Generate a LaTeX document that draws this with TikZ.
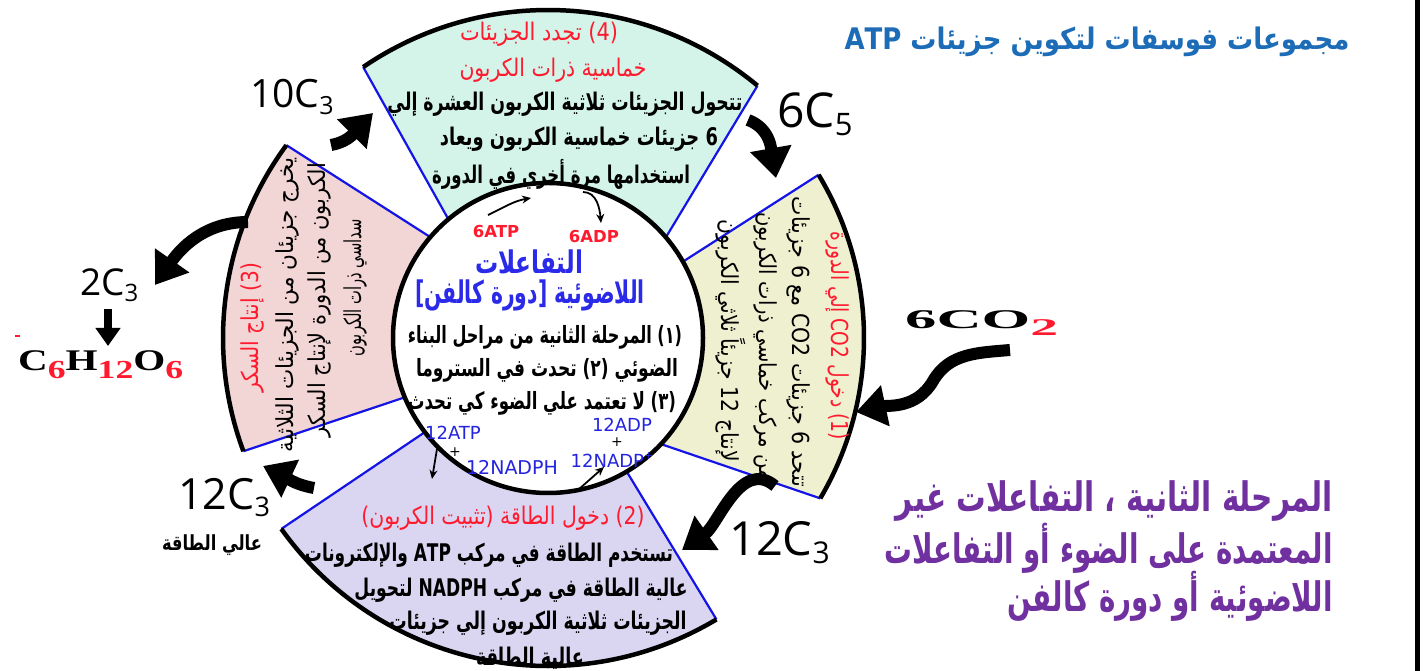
\documentclass[tikz,border=0pt]{standalone}
\usepackage{fontspec}
\usepackage{graphicx}
\usetikzlibrary{arrows.meta}
\TeXXeTstate=1
\setmainfont{DejaVu Sans}
\newfontfamily\arabicfont[Script=Arabic]{DejaVu Sans}
\newfontfamily\labfont{Open Sans}
\newfontfamily\serfont{Liberation Serif}
\definecolor{tealf}{HTML}{D4F4EA}
\definecolor{yelf}{HTML}{EEF0CF}
\definecolor{lavf}{HTML}{DAD6F1}
\definecolor{pinkf}{HTML}{F2D5D5}
\definecolor{sideblue}{HTML}{1414E6}
\definecolor{segred}{HTML}{FF1A2E}
\definecolor{cblue}{HTML}{2A2AE8}
\definecolor{titleblue}{HTML}{1C6CB8}
\definecolor{purp}{HTML}{7030A0}
\definecolor{nblue}{HTML}{2424E0}
% #1 font size, #2 width (pt), #3 vertical factor, #4 text
\newcommand\ARW[4]{\resizebox{#2pt}{#3\height}{\fontsize{#1}{#1}\selectfont\arabicfont #4}}
\newcommand\FW[2]{\resizebox{#1}{\height}{#2}}
\begin{document}
\begin{tikzpicture}[x=1pt,y=1pt,
  outerarc/.style={line width=4.5pt},
  side/.style={draw=sideblue,line width=2.2pt},
  redt/.style={text=segred,inner sep=0pt},
  blkt/.style={text=black,inner sep=0pt},
  lab/.style={text=black,inner sep=0pt,font=\labfont},
  bigarrow/.style={line width=12pt,-{Triangle[length=30pt,width=40pt]}},
  smallarrow/.style={line width=1.8pt,-{Stealth[length=9pt,width=8pt]}}]
\useasboundingbox (0,0) rectangle (1427,671);
\fill[white] (0,0) rectangle (1427,671);
\fill[black] (1415,0) rectangle (1420,671);

\begin{scope}[shift={(548,333)}]
% fills
\fill[tealf] (124.3:328) arc[start angle=124.3,end angle=50.3,radius=328] -- (40.5:155) arc[start angle=40.5,end angle=130,radius=155] -- cycle;
\fill[yelf] (31.1:316) arc[start angle=31.1,end angle=-30.5,radius=316] -- (-43.2:155) arc[start angle=-43.2,end angle=29.5,radius=155] -- cycle;
\fill[lavf] (-144.4:328) arc[start angle=-144.4,end angle=-59.1,radius=328] -- (-59.5:155) arc[start angle=-59.5,end angle=-142.6,radius=155] -- cycle;
\fill[pinkf] (143.6:325) arc[start angle=143.6,end angle=200.4,radius=325] -- (202.5:155) arc[start angle=202.5,end angle=139.4,radius=155] -- cycle;
% sides
\draw[side] (124.3:328) -- (130:155);
\draw[side] (50.3:328) -- (40.5:155);
\draw[side] (31.1:316) -- (29.5:155);
\draw[side] (-30.5:316) -- (-43.2:155);
\draw[side] (-144.4:328) -- (-142.6:155);
\draw[side] (-59.1:328) -- (-59.5:155);
\draw[side] (143.6:325) -- (139.4:155);
\draw[side] (200.4:325) -- (202.5:155);
% outer arcs
\draw[outerarc] (124.3:328) arc[start angle=124.3,end angle=50.3,radius=328];
\draw[outerarc] (31.1:316) arc[start angle=31.1,end angle=-30.5,radius=316];
\draw[outerarc] (-144.4:328) arc[start angle=-144.4,end angle=-59.1,radius=328];
\draw[outerarc] (143.6:325) arc[start angle=143.6,end angle=200.4,radius=325];
% centre circle
\draw[line width=4.5pt] (0,0) circle[radius=155];
\end{scope}

% top segment text
\node[redt] (t1) at (539,637) {\ARW{18}{158}{1.35}{\beginR (4) تجدد الجزيئات\endR}};
\node[redt] (t2) at (553,601) {\ARW{18}{187}{1.35}{\beginR خماسية ذرات الكربون\endR}};
\node[blkt] (t3) at (565,567) {\ARW{18}{355}{1.35}{\bfseries\beginR تتحول الجزيئات ثلاثية الكربون العشرة إلي\endR}};
\node[blkt] (t4) at (579,532) {\ARW{18}{278}{1.35}{\bfseries\beginR 6 جزيئات خماسية الكربون ويعاد\endR}};
\node[blkt] (t5) at (561,497) {\ARW{18}{258}{1.35}{\bfseries\beginR استخدامها مرة أخري في الدورة\endR}};

% right (yellow) segment text
\node[redt,rotate=-90] (r1) at (838,335) {\ARW{18}{208}{1.3}{\beginR (1) دخول CO2 إلي الدورة\endR}};
\node[blkt,rotate=-90] (r2) at (799,329) {\ARW{18}{290}{1.3}{\beginR تتحد 6 جزيئات CO2 مع 6 جزيئات\endR}};
\node[blkt,rotate=-90] (r3) at (766,325) {\ARW{18}{267}{1.3}{\beginR من مركب خماسي ذرات الكربون\endR}};
\node[blkt,rotate=-90] (r4) at (731,330) {\ARW{18}{242}{1.3}{\beginR لإنتاج 12 جزيئاً ثلاثي الكربون\endR}};

% left (pink) segment text
\node[redt,rotate=90] (p1) at (252,343) {\ARW{18}{130}{1.3}{\beginR (3) إنتاج السكر\endR}};
\node[blkt,rotate=90] (p2) at (287,366) {\ARW{18}{295}{1.3}{\beginR يخرج جزيئان من الجزيئات الثلاثية\endR}};
\node[blkt,rotate=90] (p3) at (319,371) {\ARW{18}{274}{1.3}{\beginR الكربون من الدورة لإنتاج السكر\endR}};
\node[blkt,rotate=90] (p4) at (355,383) {\ARW{18}{137}{1.3}{\beginR سداسي ذرات الكربون\endR}};

% bottom segment text
\node[redt] (b1) at (503,153) {\ARW{18}{283}{1.35}{\beginR (2) دخول الطاقة (تثبيت الكربون)\endR}};
\node[blkt] (b2) at (489,116) {\ARW{18}{368}{1.35}{\bfseries\beginR تستخدم الطاقة في مركب ATP والإلكترونات\endR}};
\node[blkt] (b3) at (521,81) {\ARW{18}{333}{1.35}{\bfseries\beginR عالية الطاقة في مركب NADPH لتحويل\endR}};
\node[blkt] (b4) at (538,48) {\ARW{18}{297}{1.35}{\bfseries\beginR الجزيئات ثلاثية الكربون إلي جزيئات\endR}};
\node[blkt] (b5) at (530,13) {\ARW{18}{108}{1.35}{\bfseries\beginR عالية الطاقة\endR}};

% centre text
\node[inner sep=0pt,text=cblue] (c1) at (529,409) {\ARW{24}{108}{1.3}{\bfseries\beginR التفاعلات\endR}};
\node[inner sep=0pt,text=cblue] (c2) at (530,376) {\ARW{24}{230}{1.3}{\bfseries\beginR اللاضوئية [دورة كالفن]\endR}};
\node[blkt] (c3) at (545,334) {\ARW{19}{274}{1.25}{\bfseries\beginR (١) المرحلة الثانية من مراحل البناء\endR}};
\node[blkt] (c4) at (547,301) {\ARW{19}{262}{1.25}{\bfseries\beginR الضوئي (٢) تحدث في الستروما\endR}};
\node[blkt] (c5) at (542,268) {\ARW{19}{268}{1.25}{\bfseries\beginR (٣) لا تعتمد علي الضوء كي تحدث\endR}};

% small molecule labels
\node[inner sep=0pt,text=segred,font=\bfseries\fontsize{16.5}{16.5}\selectfont] (atp6) at (496,439) {6ATP};
\node[inner sep=0pt,text=segred,font=\bfseries\fontsize{16.5}{16.5}\selectfont] (adp6) at (594,434) {6ADP};
\node[inner sep=0pt,text=nblue,font=\fontsize{18}{18}\selectfont] (atp12) at (453,238) {12ATP};
\node[inner sep=0pt,font=\fontsize{14}{14}\selectfont] (pl1) at (455,219) {+};
\node[inner sep=0pt,text=nblue,font=\fontsize{19}{19}\selectfont] (nadph) at (512,204) {12NADPH};
\node[inner sep=0pt,text=nblue,font=\fontsize{18}{18}\selectfont] (adp12) at (622,246) {12ADP};
\node[inner sep=0pt,font=\fontsize{14}{14}\selectfont] (pl2) at (617,229) {+};
\node[inner sep=0pt,text=nblue,font=\fontsize{18}{18}\selectfont] (nadp) at (612,211) {12NADP\raisebox{8pt}{\fontsize{11}{11}\selectfont +}};

% small arrows
\coordinate (sa1) at (488,456); \coordinate (sa2) at (531,473);
\draw[smallarrow] (sa1) to[out=25,in=190] (sa2);
\coordinate (sb1) at (583,479); \coordinate (sb2) at (601,448);
\draw[smallarrow] (sb1) to[out=0,in=95] (sb2);
\coordinate (sc1) at (437,222); \coordinate (sc2) at (432,192);
\draw[smallarrow] (sc1) -- (sc2);
\coordinate (sd1) at (578,181); \coordinate (sd2) at (604,204);
\draw[smallarrow] (sd1) -- (sd2);

% outer labels
\node[lab,anchor=west] (l10) at (250,574) {\fontsize{39}{39}\selectfont 10C\raisebox{-7pt}{\fontsize{25}{25}\selectfont 3}};
\node[lab,anchor=west] (l6) at (777,557) {\fontsize{48}{48}\selectfont 6C\raisebox{-8pt}{\fontsize{31}{31}\selectfont 5}};
\node[lab,anchor=west] (l2) at (80,386) {\fontsize{37}{37}\selectfont 2C\raisebox{-6pt}{\fontsize{24}{24}\selectfont 3}};
\node[lab,anchor=west] (l12r) at (729,128) {\fontsize{47}{47}\selectfont 12C\raisebox{-8pt}{\fontsize{30}{30}\selectfont 3}};
\node[lab,anchor=west] (l12l) at (178,173) {\fontsize{43}{43}\selectfont 12C\raisebox{-7pt}{\fontsize{27}{27}\selectfont 3}};
\node[blkt] (hiE) at (212,126) {\ARW{16}{100}{1.3}{\bfseries\beginR عالي الطاقة\endR}};
\node[inner sep=0pt,anchor=west,font=\serfont\bfseries] (gluc) at (18,306) {\FW{165pt}{\fontsize{30}{30}\selectfont C\raisebox{-8pt}{\color{segred}\fontsize{26}{26}\selectfont 6}H\raisebox{-8pt}{\color{segred}\fontsize{26}{26}\selectfont 12}O\raisebox{-8pt}{\color{segred}\fontsize{26}{26}\selectfont 6}}};
\draw[segred,line width=1.2pt] (15,335) -- (20,335);
\node[inner sep=0pt,anchor=west,font=\serfont\bfseries] (co2) at (905,348) {\FW{153pt}{\fontsize{27}{27}\selectfont 6CO\raisebox{-7pt}{\color{segred}\fontsize{24}{24}\selectfont 2}}};

% big arrows
\coordinate (A1s) at (331,526); \coordinate (A1t) at (373,558);
\draw[bigarrow] (A1s) to[out=10,in=225] (A1t);
\coordinate (A2s) at (748,551); \coordinate (A2t) at (776,493);
\draw[bigarrow] (A2s) to[out=-20,in=100] (A2t);
\coordinate (A3s) at (1010,321); \coordinate (A3m) at (933,290); \coordinate (A3t) at (856,259);
\draw[bigarrow] (A3s) to[out=185,in=60] (A3m) to[out=240,in=12] (A3t);
\coordinate (A4s) at (775,185); \coordinate (A4t) at (682,121);
\draw[bigarrow] (A4s) to[out=140,in=35] (A4t);
\coordinate (A5s) at (314,183); \coordinate (A5t) at (263,205);
\draw[bigarrow] (A5s) to[out=170,in=-25] (A5t);
\coordinate (A6s) at (248,449); \coordinate (A6t) at (155,386);
\draw[bigarrow] (A6s) to[out=180,in=55] (A6t);
\coordinate (A7s) at (108,362); \coordinate (A7t) at (108,325);
\draw[line width=8pt,-{Triangle[length=18pt,width=24pt]}] (A7s) -- (A7t);

% title and heading
\node[inner sep=0pt,text=titleblue] (title) at (1097,629) {\ARW{22}{505}{1.35}{\bfseries\beginR مجموعات فوسفات لتكوين جزيئات ATP\endR}};
\node[inner sep=0pt,text=purp,anchor=east] (h1) at (1333,170) {\ARW{28}{437}{1.45}{\bfseries\beginR المرحلة الثانية ، التفاعلات غير\endR}};
\node[inner sep=0pt,text=purp,anchor=east] (h2) at (1333,123) {\ARW{28}{448}{1.45}{\bfseries\beginR المعتمدة على الضوء أو التفاعلات\endR}};
\node[inner sep=0pt,text=purp,anchor=east] (h3) at (1333,75) {\ARW{28}{325}{1.45}{\bfseries\beginR اللاضوئية أو دورة كالفن\endR}};
\end{tikzpicture}
\end{document}
